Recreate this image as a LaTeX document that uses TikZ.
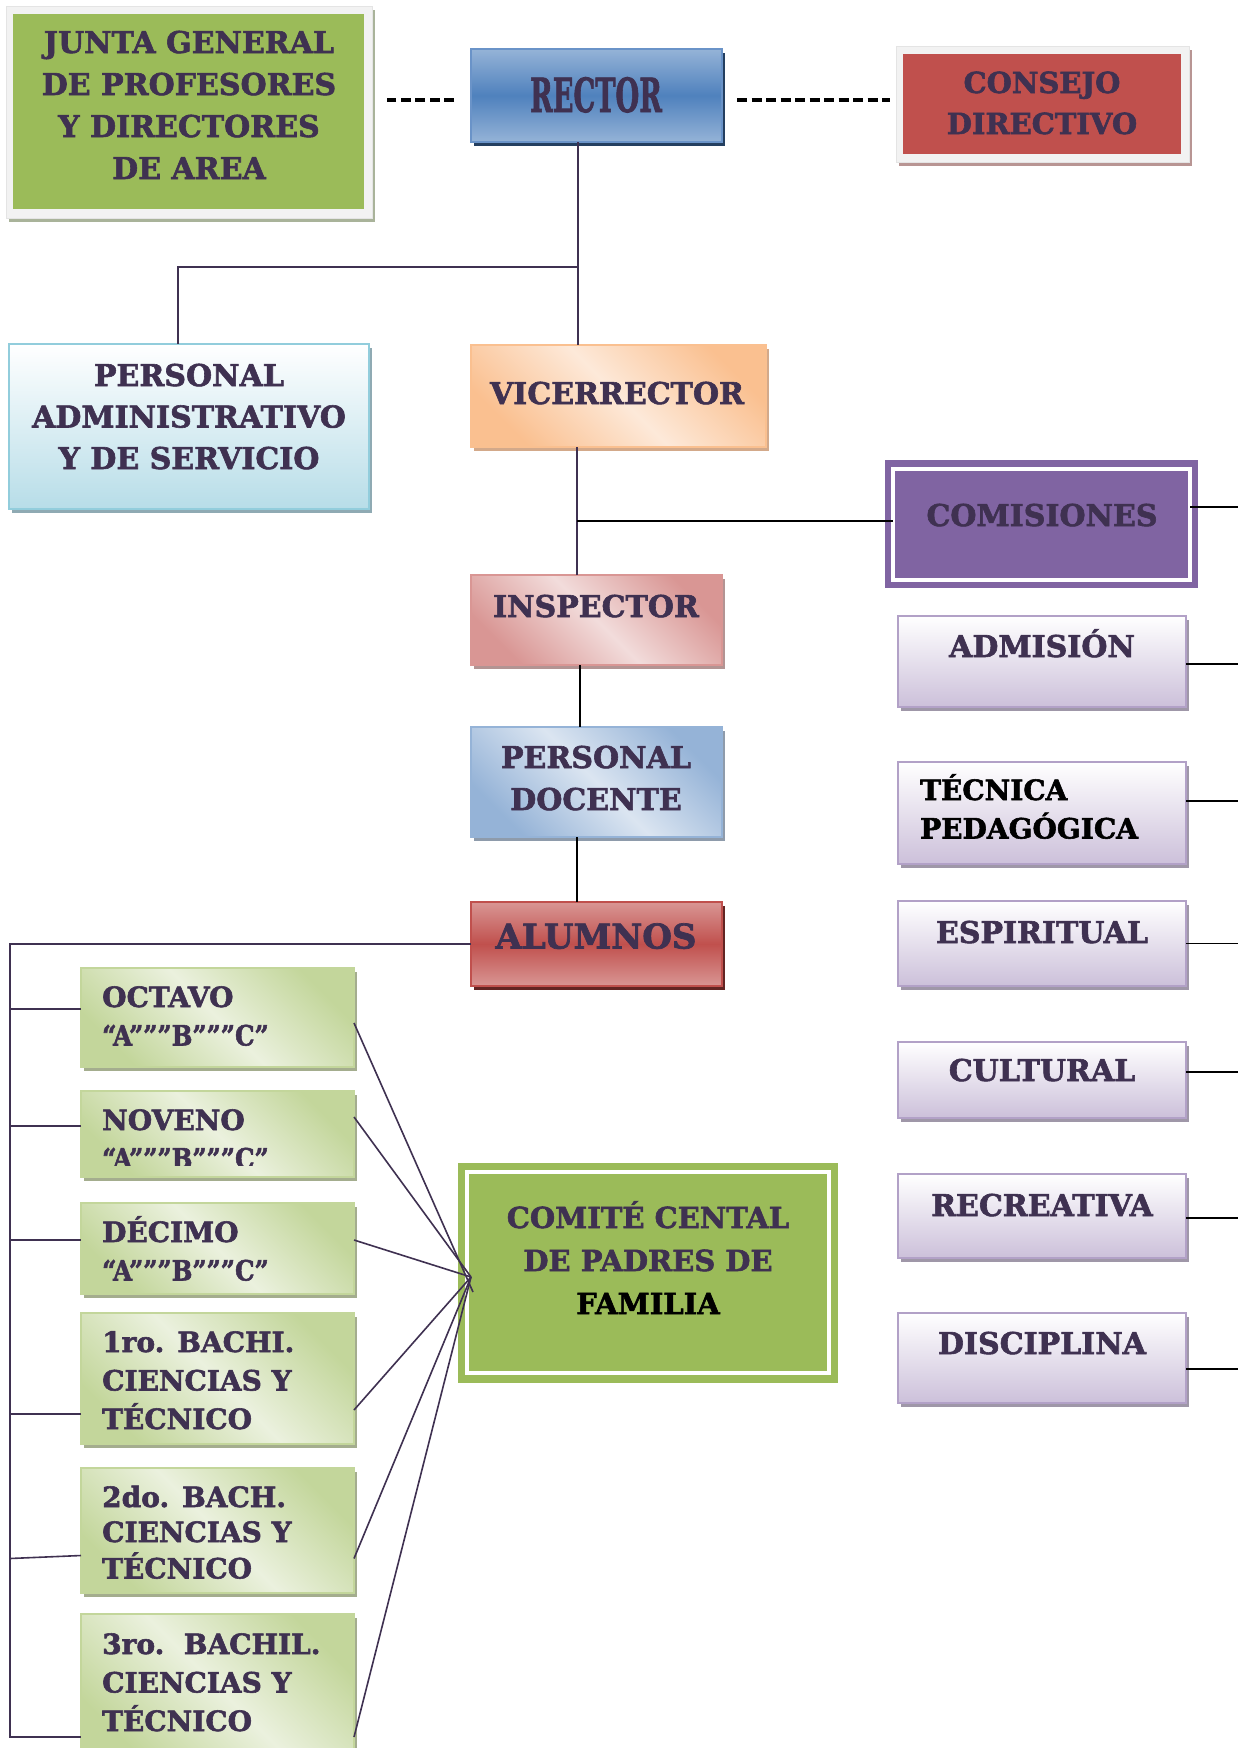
\documentclass[tikz,border=0pt]{standalone}
\usepackage{fontspec}
\setmainfont{DejaVu Serif}[BoldFeatures={FakeBold=2}]
\usetikzlibrary{shadows}
\definecolor{txtc}{RGB}{63,49,81}
\definecolor{olive}{HTML}{9BBB59}
\definecolor{frm}{HTML}{F2F2F2}
\definecolor{frmb}{HTML}{E4E4E4}
\definecolor{jsh}{HTML}{A9B39A}
\definecolor{rblue}{HTML}{4F81BD}
\definecolor{rbluel}{HTML}{95B3D7}
\definecolor{rbord}{HTML}{6A93C8}
\definecolor{navy}{HTML}{243F60}
\definecolor{cred}{HTML}{C0504D}
\definecolor{csh}{HTML}{B89593}
\definecolor{aqb}{HTML}{B7DDE8}
\definecolor{aqd}{HTML}{92CDDC}
\definecolor{aqs}{HTML}{8FAAB3}
\definecolor{ord}{HTML}{FAC090}
\definecolor{orl}{HTML}{FDE9D9}
\definecolor{ors}{HTML}{D3A98A}
\definecolor{purp}{HTML}{8064A2}
\definecolor{pkd}{HTML}{D99694}
\definecolor{pkl}{HTML}{F2DCDB}
\definecolor{pks}{HTML}{B39493}
\definecolor{bll}{HTML}{DBE5F1}
\definecolor{bls}{HTML}{8E9BAB}
\definecolor{drd}{HTML}{632523}
\definecolor{lavb}{HTML}{CCC0DA}
\definecolor{lavd}{HTML}{B2A1C7}
\definecolor{lavs}{HTML}{9F97A8}
\definecolor{grd}{HTML}{C3D69B}
\definecolor{grl}{HTML}{EBF1DE}
\definecolor{grs}{HTML}{A4AD8E}
\newcommand\cl[1]{\begin{tabular}[t]{@{}c@{}}#1\end{tabular}}
\newcommand\lft[1]{\begin{tabular}[t]{@{}l@{}}#1\end{tabular}}
\newcommand\abc{\scalebox{0.88}[1]{“A”””B”””C”}}
\tikzset{
  bx/.style={anchor=north west, inner sep=0pt, outer sep=0pt, line width=1.5pt},
  shd/.style={drop shadow={shadow xshift=3pt,shadow yshift=-4pt,opacity=1,fill=#1}},
  diag/.style={top color=#1, bottom color=#1, shading angle=-45},
  tx/.style={anchor=base, inner sep=0pt, text=txtc, font=\bfseries\fontsize{30}{42}\selectfont},
  txs/.style={anchor=base west, inner sep=0pt, text=txtc, font=\bfseries\fontsize{28}{38.5}\selectfont},
  conn/.style={draw=txtc, line width=1.6pt},
  blk/.style={draw=black, line width=1.6pt},
  dsh/.style={draw=black, line width=4pt, dash pattern=on 10pt off 4.5pt},
  combox/.style={bx, draw=lavd, top color=white, bottom color=lavb, shd=lavs, minimum width=288pt},
  gradebox/.style={bx, draw=grd, diag=grd, middle color=grl, shd=grs, minimum width=273pt},
}
\begin{document}
\begin{tikzpicture}[x=1pt,y=-1pt]
\useasboundingbox (0,0) rectangle (1238,1748);
\clip (0,0) rectangle (1238,1748);
\fill[white] (0,0) rectangle (1238,1748);

% ---- top row
\node[bx, fill=frm, draw=frmb, line width=0.8pt, shd=jsh, minimum width=366pt, minimum height=212pt] (juntaf) at (6,6) {};
\node[bx, fill=olive, minimum width=351pt, minimum height=195pt] (junta) at (13,14) {};
\node[tx] (junta-t) at (189,53) {\cl{JUNTA GENERAL\\DE PROFESORES\\Y DIRECTORES\\DE AREA}};

\node[bx, draw=rbord, top color=rbluel, bottom color=rbluel, middle color=rblue, shd=navy, minimum width=251pt, minimum height=93pt] (rector) at (471,49) {};
\node[tx, font=\bfseries\fontsize{47}{47}\selectfont] (rector-t) at (596,112) {\scalebox{0.58}[1]{RECTOR}};

\node[bx, fill=frm, draw=frmb, line width=0.8pt, shd=csh, minimum width=293pt, minimum height=116pt] (consejof) at (896,46) {};
\node[bx, fill=cred, minimum width=278pt, minimum height=100pt] (consejo) at (903,54) {};
\node[tx, font=\bfseries\fontsize{29}{41}\selectfont] (consejo-t) at (1042,93) {\cl{CONSEJO\\DIRECTIVO}};

% ---- second row
\node[bx, draw=aqd, top color=white, bottom color=aqb, shd=aqs, minimum width=360pt, minimum height=165pt] (admin) at (9,344) {};
\node[tx, font=\bfseries\fontsize{30}{41.5}\selectfont] (admin-t) at (189,386) {\cl{PERSONAL\\ADMINISTRATIVO\\Y DE SERVICIO}};

\node[bx, draw=ord, diag=ord, middle color=orl, shd=ors, minimum width=295pt, minimum height=102pt] (vice) at (471,345) {};
\node[tx] (vice-t) at (617,404) {VICERRECTOR};

\node[bx, fill=purp, minimum width=313pt, minimum height=128pt] (comi) at (885,460) {};
\node[bx, fill=purp, draw=white, line width=3.5pt, minimum width=297pt, minimum height=111pt] (comi-in) at (893,469) {};
\node[tx] (comi-t) at (1042,526) {COMISIONES};

\node[bx, draw=pkd, diag=pkd, middle color=pkl, shd=pks, minimum width=251pt, minimum height=90pt] (insp) at (471,575) {};
\node[tx] (insp-t) at (596,617) {INSPECTOR};

\node[bx, draw=rbluel, diag=rbluel, middle color=bll, shd=bls, minimum width=251pt, minimum height=110pt] (doc) at (471,727) {};
\node[tx] (doc-t) at (596,768) {\cl{PERSONAL\\DOCENTE}};

\node[bx, draw=cred, top color=pkd, bottom color=pkd, middle color=cred, shd=drd, minimum width=251pt, minimum height=84pt] (alum) at (471,902) {};
\node[tx, font=\bfseries\fontsize{34}{40}\selectfont] (alum-t) at (596,948.5) {ALUMNOS};

% ---- commissions
\node[combox, minimum height=91pt] (adm) at (898,616) {};
\node[tx] (adm-t) at (1042,657) {ADMISIÓN};
\node[combox, minimum height=102pt] (tec) at (898,762) {};
\node[txs, text=black] (tec-t) at (920,800) {\lft{TÉCNICA\\PEDAGÓGICA}};
\node[combox, minimum height=85pt] (esp) at (898,901) {};
\node[tx] (esp-t) at (1042,943) {ESPIRITUAL};
\node[combox, minimum height=76pt] (cul) at (898,1042) {};
\node[tx] (cul-t) at (1042,1081) {CULTURAL};
\node[combox, minimum height=84pt] (rec) at (898,1174) {};
\node[tx] (rec-t) at (1042,1216) {RECREATIVA};
\node[combox, minimum height=90pt] (dis) at (898,1313) {};
\node[tx] (dis-t) at (1042,1354) {DISCIPLINA};

% ---- grades
\node[gradebox, minimum height=99pt] (g1) at (81,968) {};
\node[txs] (g1-t) at (102,1007) {\lft{OCTAVO\\\abc}};
\node[gradebox, minimum height=86pt] (g2) at (81,1091) {};
\begin{scope}
\clip (81,1091) rectangle (354,1165);
\node[txs] (g2-t) at (102,1130) {\lft{NOVENO\\\abc}};
\end{scope}
\node[gradebox, minimum height=91pt] (g3) at (81,1203) {};
\node[txs] (g3-t) at (102,1242) {\lft{DÉCIMO\\\abc}};
\node[gradebox, minimum height=131pt] (g4) at (81,1313) {};
\node[txs] (g4-t) at (102,1352) {\lft{1ro. BACHI.\\CIENCIAS Y\\TÉCNICO}};
\node[gradebox, minimum height=125pt] (g5) at (81,1468) {};
\node[txs, font=\bfseries\fontsize{28}{35}\selectfont] (g5-t) at (102,1507) {\lft{2do. BACH.\\CIENCIAS Y\\TÉCNICO}};
\node[gradebox, minimum height=146pt] (g6) at (81,1614) {};
\node[txs] (g6-t) at (102,1654) {\lft{3ro.\ \ BACHIL.\\CIENCIAS Y\\TÉCNICO}};

% ---- comite
\node[bx, fill=olive, minimum width=380pt, minimum height=220pt] (comite) at (458,1163) {};
\node[bx, fill=olive, draw=white, line width=3.5pt, minimum width=362pt, minimum height=201pt] (comite-in) at (467,1172) {};
\node[tx, font=\bfseries\fontsize{29}{43}\selectfont] (comite-t) at (648,1228) {\cl{COMITÉ CENTAL\\DE PADRES DE\\\textcolor{black}{FAMILIA}}};

% ---- connectors
\draw[dsh] ([xshift=-17pt,yshift=-4.5pt]rector.west) -- +(-67,0);
\draw[dsh] ([xshift=15pt,yshift=-4.5pt]rector.east) -- +(153,0);

\coordinate (jA) at (578,267);
\coordinate (jB) at (577,521);
\coordinate (tb) at (10,1737);
\coordinate (rim) at (1238,0);
\coordinate (hub) at (471,1277);

\draw[conn] ([xshift=-18.5pt]rector.south) -- ([xshift=-18.5pt]rector.south |- vice.north);
\draw[conn] (jA) -| ([xshift=-11pt]admin.north);
\draw[conn] ([xshift=-41.5pt]vice.south) -- ([xshift=-41.5pt]vice.south |- insp.north);
\draw[blk] (jB) -- (jB -| comi-in.west);
\draw[blk] ([xshift=-16.5pt]insp.south) -- ([xshift=-16.5pt]insp.south |- doc.north);
\draw[blk] ([xshift=-19.5pt]doc.south) -- ([xshift=-19.5pt]doc.south |- alum.north);

\draw[conn] (alum.west) -| (tb) -- (tb -| g6.west);
\draw[conn] ([yshift=8.5pt]g1.west) -- ([yshift=8.5pt]g1.west -| tb);
\draw[conn] ([yshift=8pt]g2.west) -- ([yshift=8pt]g2.west -| tb);
\draw[conn] ([yshift=8.5pt]g3.west) -- ([yshift=8.5pt]g3.west -| tb);
\draw[conn] ([yshift=-35.5pt]g4.west) -- ([yshift=-35.5pt]g4.west -| tb);
\draw[conn] ([yshift=-25pt]g5.west) -- ([yshift=-28pt]g5.west -| tb);

\draw[conn] ([yshift=-5.5pt]g1.east) -- (473,1292);
\draw[conn] ([yshift=17pt]g2.east) -- (hub);
\draw[conn] ([yshift=8.5pt]g3.east) -- (hub);
\draw[conn] ([yshift=-31.5pt]g4.east) -- (hub);
\draw[conn] ([yshift=-28pt]g5.east) -- (hub);
\draw[conn] ([yshift=-50pt]g6.east) -- (hub);

\draw[blk] ([yshift=17.5pt]comi-in.east) -- ([yshift=17.5pt]comi-in.east -| rim);
\draw[blk] ([yshift=-2.5pt]adm.east) -- ([yshift=-2.5pt]adm.east -| rim);
\draw[blk] ([yshift=12pt]tec.east) -- ([yshift=12pt]tec.east -| rim);
\draw[blk] (esp.east) -- (esp.east -| rim);
\draw[blk] ([yshift=8pt]cul.east) -- ([yshift=8pt]cul.east -| rim);
\draw[blk] ([yshift=-2pt]rec.east) -- ([yshift=-2pt]rec.east -| rim);
\draw[blk] ([yshift=-11pt]dis.east) -- ([yshift=-11pt]dis.east -| rim);
\end{tikzpicture}
\end{document}
